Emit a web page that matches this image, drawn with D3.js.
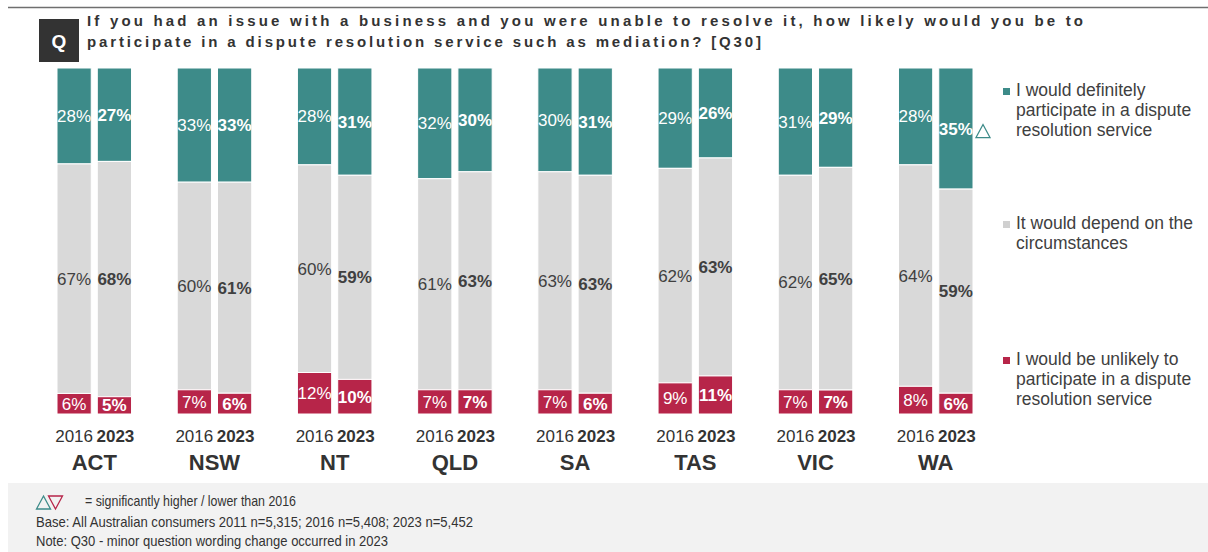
<!DOCTYPE html>
<html><head><meta charset="utf-8">
<script src="https://cdn.jsdelivr.net/npm/d3@7"></script>
<style>body{margin:0;background:#fff;} text{font-family:"Liberation Sans",Arial,sans-serif;}</style>
</head><body>
<svg id="chart" width="1208" height="552"></svg>
<script>
const regions = ["ACT","NSW","NT","QLD","SA","TAS","VIC","WA"];
const years = ["2016","2023"];
const seriesNames = ["I would definitely participate in a dispute resolution service","It would depend on the circumstances","I would be unlikely to participate in a dispute resolution service"];
const definitely2016 = [28,33,28,32,30,29,31,28];
const definitely2023 = [27,33,31,30,31,26,29,35];
const depend2016 = [67,60,60,61,63,62,62,64];
const depend2023 = [68,61,59,63,63,63,65,59];
const unlikely2016 = [6,7,12,7,7,9,7,8];
const unlikely2023 = [5,6,10,7,6,11,7,6];
const sigHigher2023 = [null,null,null,null,null,null,null,"definitely"]; // WA up-arrow
const titleLines = ["If you had an issue with a business and you were unable to resolve it, how likely would you be to","participate in a dispute resolution service such as mediation? [Q30]"];
const legendLines = [["I would definitely","participate in a dispute","resolution service"],["It would depend on the","circumstances"],["I would be unlikely to","participate in a dispute","resolution service"]];
const footLines = ["= significantly higher / lower than 2016","Base: All Australian consumers 2011 n=5,315; 2016 n=5,408; 2023 n=5,452","Note: Q30 - minor question wording change occurred in 2023"];

const colors = ["#3D8B89","#D9D9D9","#B72549"];
const textOn = ["#fff","#404040","#fff"];

const svg = d3.select("#chart");

// top rule
svg.append("line").attr("x1",8).attr("x2",1208).attr("y1",7.5).attr("y2",7.5).attr("stroke","#6f6f6f").attr("stroke-width",1.5);
// Q box
svg.append("rect").attr("x",39).attr("y",19).attr("width",40).attr("height",43).attr("fill","#333");
svg.append("text").attr("x",59).attr("y",48).attr("text-anchor","middle").attr("fill","#fff").attr("font-weight","bold").attr("font-size",19).text("Q");
// title
const tl = [996, 674];
titleLines.forEach((t,i)=>{
  svg.append("text").attr("x",87).attr("y",25.5+i*21.5).attr("fill","#333").attr("font-weight","bold").attr("font-size",15)
    .attr("textLength",tl[i]).attr("lengthAdjust","spacing").text(t);
});

// data
const rows = [];
regions.forEach((r,i)=>{
  rows.push({region:r, year:"2016", vals:[definitely2016[i],depend2016[i],unlikely2016[i]], sig:null});
  rows.push({region:r, year:"2023", vals:[definitely2023[i],depend2023[i],unlikely2023[i]], sig:sigHigher2023[i]});
});

const x0 = d3.scaleBand().domain(regions).range([57,973]).paddingInner(0.38).paddingOuter(0);
const x1 = d3.scaleBand().domain(years).range([0,x0.bandwidth()]).paddingInner(0.15);
const y = d3.scaleLinear().domain([0,1]).range([68,414]);

const g = svg.append("g");
rows.forEach(row=>{
  const total = d3.sum(row.vals);
  let cum = 0;
  const bx = x0(row.region)+x1(row.year);
  const bw = x1.bandwidth();
  row.vals.forEach((v,k)=>{
    const y0 = y(cum/total), y1v = y((cum+v)/total);
    cum += v;
    g.append("rect").attr("x",bx).attr("y",y0).attr("width",bw).attr("height",y1v-y0)
      .attr("fill",colors[k]).attr("stroke","#fff").attr("stroke-width",1);
    g.append("text").attr("x",bx+bw/2).attr("y",(y0+y1v)/2).attr("dy","0.35em").attr("text-anchor","middle")
      .attr("fill",textOn[k]).attr("font-size",17).attr("font-weight",row.year==="2023"?"bold":"normal")
      .text(v+"%");
    if(k===0 && row.sig==="definitely"){
      const cx = bx+bw+10, cy=(y0+y1v)/2+3;
      g.append("path").attr("d",`M${cx-7},${cy+6}L${cx+7},${cy+6}L${cx},${cy-7}Z`).attr("fill","none").attr("stroke",colors[0]).attr("stroke-width",1.3);
    }
  });
  g.append("text").attr("x",bx+bw/2+(row.year==="2023"?1:0)).attr("y",442).attr("text-anchor","middle").attr("fill","#333")
    .attr("font-size",17).attr("font-weight",row.year==="2023"?"bold":"normal").text(row.year);
});
regions.forEach(r=>{
  g.append("text").attr("x",x0(r)+x0.bandwidth()/2).attr("y",470).attr("text-anchor","middle").attr("fill","#333")
    .attr("font-size",22).attr("font-weight","bold").text(r);
});

// legend
const legTop = [96,229,365];
legendLines.forEach((lines,k)=>{
  svg.append("rect").attr("x",1003).attr("y",legTop[k]-8).attr("width",7).attr("height",7).attr("fill",colors[k]==="#D9D9D9"?"#D0D0D0":colors[k]);
  lines.forEach((t,j)=>{
    svg.append("text").attr("x",1016).attr("y",legTop[k]+j*20).attr("fill","#404040").attr("font-size",17.5).text(t);
  });
});

// footer
svg.append("rect").attr("x",8).attr("y",483).attr("width",1200).attr("height",69).attr("fill","#F2F2F2");
svg.append("path").attr("d","M43.5,496L50.5,509L36.5,509Z").attr("fill","none").attr("stroke",colors[0]).attr("stroke-width",1.3);
svg.append("path").attr("d","M55.5,509L62.5,496L48.5,496Z").attr("fill","none").attr("stroke",colors[2]).attr("stroke-width",1.3);
svg.append("text").attr("x",85).attr("y",505.5).attr("fill","#333").attr("font-size",14.5).attr("textLength",211).attr("lengthAdjust","spacingAndGlyphs").text(footLines[0]);
svg.append("text").attr("x",36).attr("y",526.5).attr("fill","#333").attr("font-size",14.5).attr("textLength",437).attr("lengthAdjust","spacingAndGlyphs").text(footLines[1]);
svg.append("text").attr("x",36).attr("y",545.5).attr("fill","#333").attr("font-size",14.5).attr("textLength",352).attr("lengthAdjust","spacingAndGlyphs").text(footLines[2]);
</script>
</body></html>
